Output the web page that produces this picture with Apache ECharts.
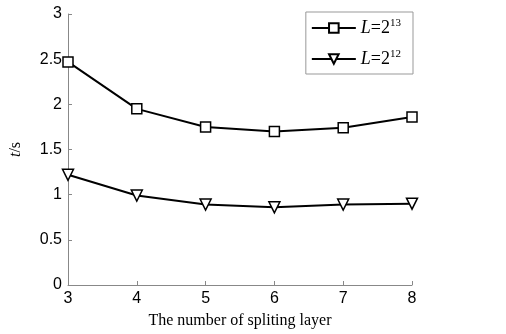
<!DOCTYPE html>
<html>
<head>
<meta charset="utf-8">
<script src="https://cdn.jsdelivr.net/npm/echarts@6/dist/echarts.min.js"></script>
<style>
  html, body { margin: 0; padding: 0; background: #fff; }
  #chart { width: 506px; height: 334px; }
</style>
</head>
<body>
<div id="chart"></div>
<script>
// splitting layers
var layers = [3, 4, 5, 6, 7, 8]
// time (s), L = 2^13
var timeL13 = [2.47, 1.95, 1.75, 1.70, 1.74, 1.86]
// time (s), L = 2^12
var timeL12 = [1.22, 0.99, 0.89, 0.86, 0.89, 0.90]

var serif = '"Liberation Serif", "DejaVu Serif", serif'
var sans = '"Liberation Sans", Arial, sans-serif'

var chart = echarts.init(document.getElementById('chart'))
var option = {
  animation: false,
  grid: { left: 67, right: 94, top: 14, bottom: 48 },
  legend: {
    right: 93,
    top: 12,
    orient: 'vertical',
    itemWidth: 44,
    itemHeight: 12,
    itemGap: 12,
    padding: [6, 12, 6, 5],
    borderColor: '#999',
    borderWidth: 1,
    data: ['L13', 'L12'],
    formatter: function (name) {
      var p = name === 'L13' ? '13' : '12'
      return '{i|L}{n|=2}{s|' + p + '}'
    },
    textStyle: {
      rich: {
        i: { fontFamily: serif, fontStyle: 'italic', fontSize: 18, color: '#000' },
        n: { fontFamily: serif, fontSize: 18, color: '#000' },
        s: { fontFamily: serif, fontSize: 11, color: '#000', padding: [0, 0, 9, 0] }
      }
    }
  },
  xAxis: {
    type: 'value',
    min: 3,
    max: 8,
    interval: 1,
    name: 'The number of spliting layer',
    nameLocation: 'middle',
    nameGap: 28,
    nameTextStyle: { fontFamily: serif, fontSize: 16, color: '#000' },
    axisLine: { lineStyle: { color: '#888', width: 1 } },
    axisTick: { inside: true, length: 4, lineStyle: { color: '#888' } },
    axisLabel: { fontFamily: sans, fontSize: 16, color: '#000', margin: 6 },
    splitLine: { show: false }
  },
  yAxis: {
    type: 'value',
    min: 0,
    max: 3,
    interval: 0.5,
    name: '{i|t}{n|/s}',
    nameLocation: 'middle',
    nameGap: 44,
    nameTextStyle: {
      rich: {
        i: { fontFamily: serif, fontStyle: 'italic', fontSize: 16, color: '#000' },
        n: { fontFamily: serif, fontSize: 16, color: '#000' }
      }
    },
    axisLine: { show: true, lineStyle: { color: '#888', width: 1 } },
    axisTick: { show: true, inside: true, length: 4, lineStyle: { color: '#888' } },
    axisLabel: { fontFamily: sans, fontSize: 16, color: '#000', margin: 6 },
    splitLine: { show: false }
  },
  series: [
    {
      name: 'L13',
      type: 'line',
      data: layers.map(function (x, i) { return [x, timeL13[i]] }),
      symbol: 'rect',
      symbolSize: 10,
      lineStyle: { color: '#000', width: 2 },
      itemStyle: { color: '#fff', borderColor: '#000', borderWidth: 1.5 }
    },
    {
      name: 'L12',
      type: 'line',
      data: layers.map(function (x, i) { return [x, timeL12[i]] }),
      symbol: 'triangle',
      symbolRotate: 180,
      symbolSize: 11,
      lineStyle: { color: '#000', width: 2 },
      itemStyle: { color: '#fff', borderColor: '#000', borderWidth: 1.5 }
    }
  ]
}
chart.setOption(option)
</script>
</body>
</html>
